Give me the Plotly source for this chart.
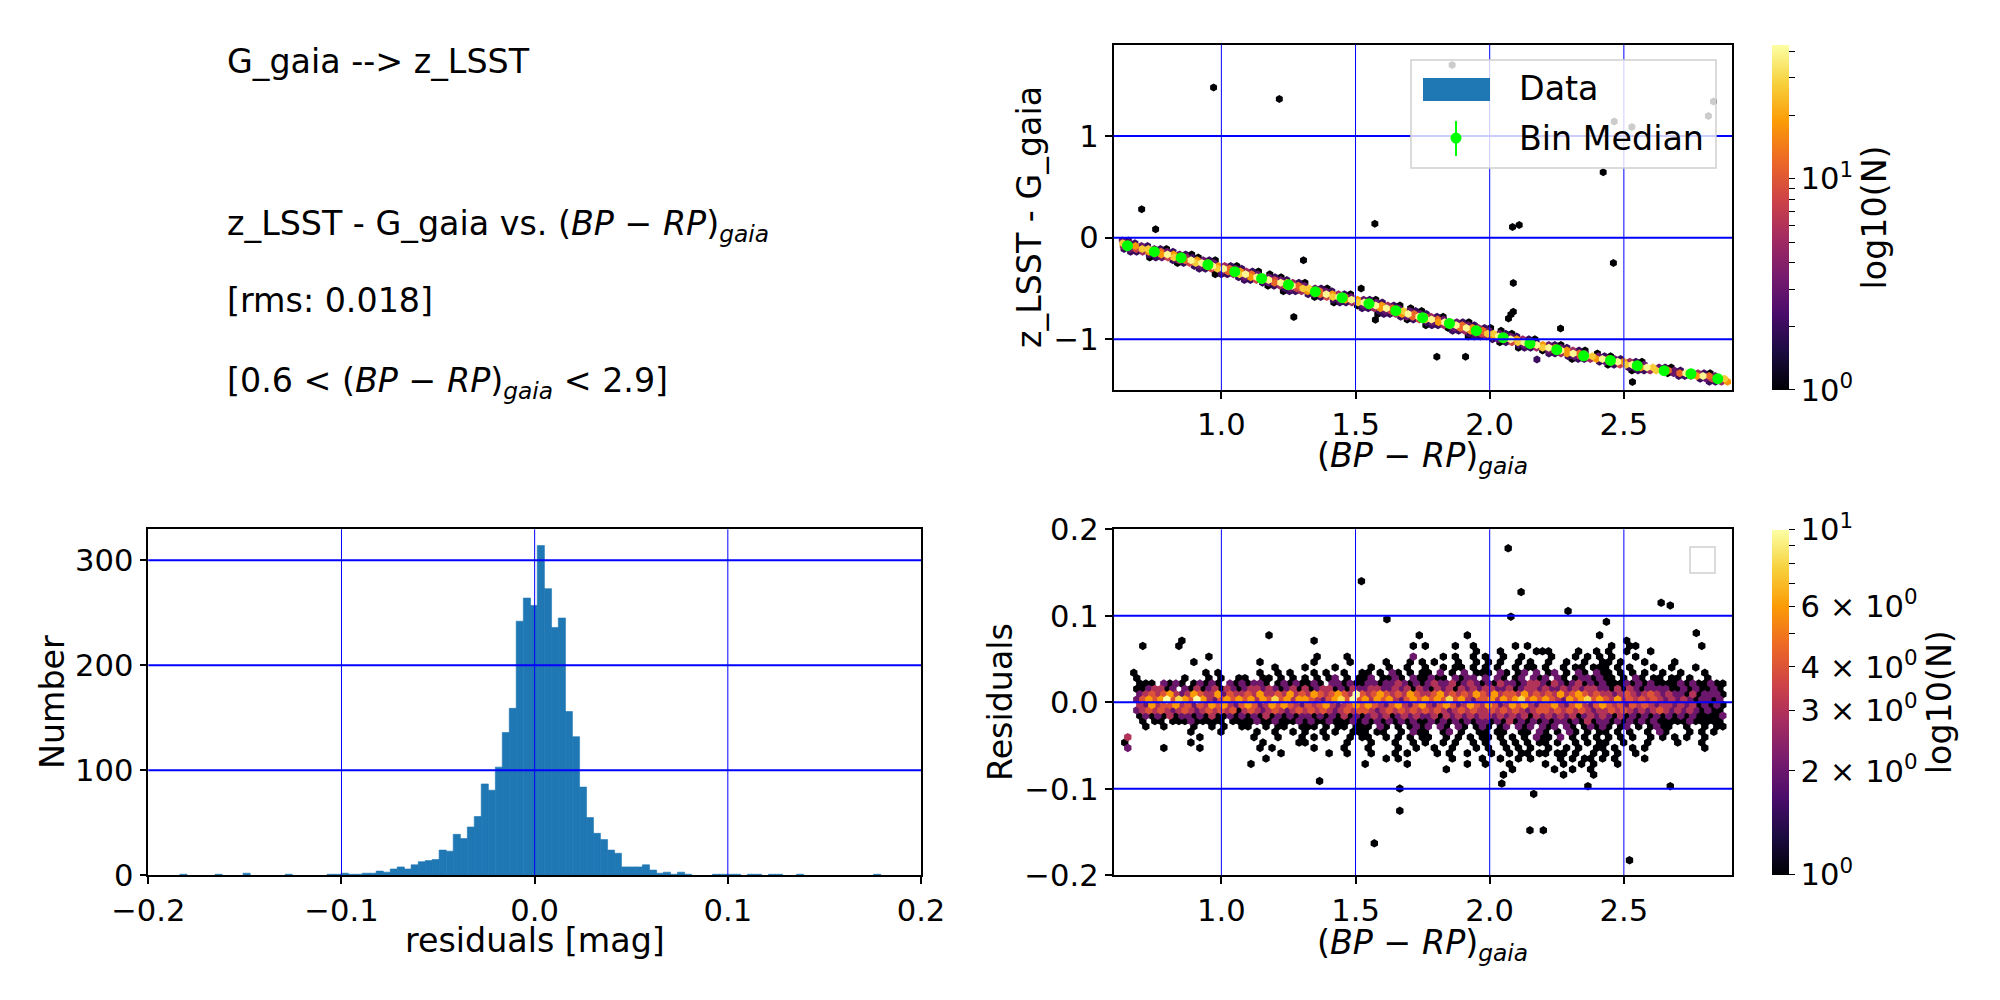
import numpy as np
import plotly.graph_objects as go

FONT = "DejaVu Sans"
TICK_SIZE = 30.6
TEXT_SIZE = 33.3

# ---------------- histogram of the residuals (bin centres, counts)
hist_centers = [-0.1818, -0.1636, -0.1491, -0.1273, -0.1056, -0.1020, -0.0983, -0.0947,
                -0.0911, -0.0874, -0.0838, -0.0802, -0.0766, -0.0729, -0.0693, -0.0657,
                -0.0621, -0.0584, -0.0548, -0.0512, -0.0476, -0.0439, -0.0403, -0.0367,
                -0.0330, -0.0294, -0.0258, -0.0222, -0.0185, -0.0149, -0.0113, -0.0077,
                -0.0040, -0.0004, 0.0032, 0.0069, 0.0105, 0.0141, 0.0177, 0.0214,
                0.0250, 0.0286, 0.0322, 0.0359, 0.0395, 0.0431, 0.0468, 0.0504,
                0.0540, 0.0576, 0.0613, 0.0649, 0.0685, 0.0721, 0.0758, 0.0794,
                0.0939, 0.0975, 0.1012, 0.1048, 0.1120, 0.1157, 0.1229, 0.1265,
                0.1374, 0.1773]
hist_counts = [1, 1, 2, 1, 1, 1, 2, 1,
               1, 2, 2, 4, 3, 6, 8, 6,
               10, 13, 14, 15, 24, 23, 39, 35,
               46, 56, 87, 81, 103, 136, 159, 242,
               264, 257, 314, 273, 236, 245, 156, 132,
               84, 55, 40, 34, 24, 21, 8, 8,
               8, 10, 5, 2, 3, 1, 3, 1,
               1, 1, 1, 1, 1, 1, 1, 1,
               1, 1]
hist_width = 0.00370

# ---------------- bin medians of the colour relation
median_x = [0.65, 0.75, 0.85, 0.95, 1.05, 1.15, 1.25, 1.35, 1.45, 1.55, 1.65, 1.75,
            1.85, 1.95, 2.05, 2.15, 2.25, 2.35, 2.45, 2.55, 2.65, 2.75, 2.85]
median_y = [-0.079, -0.138, -0.197, -0.266, -0.335, -0.401, -0.463, -0.532, -0.591,
            -0.650, -0.719, -0.788, -0.844, -0.916, -0.985, -1.041, -1.103, -1.163,
            -1.209, -1.261, -1.310, -1.340, -1.389]
median_err = [0.008, 0.006, 0.005, 0.005, 0.004, 0.004, 0.004, 0.004, 0.004, 0.004,
              0.004, 0.004, 0.004, 0.004, 0.004, 0.004, 0.004, 0.004, 0.005, 0.005,
              0.006, 0.007, 0.009]

# ---------------- top hexbin: one row of hexagons per y, centred on the band
top_dx = 0.0226
top_row_y = [-0.028, -0.056, -0.083, -0.111, -0.139, -0.167, -0.195, -0.222, -0.250,
             -0.278, -0.306, -0.334, -0.361, -0.389, -0.417, -0.445, -0.473, -0.500,
             -0.528, -0.556, -0.584, -0.612, -0.639, -0.667, -0.695, -0.723, -0.751,
             -0.778, -0.806, -0.834, -0.862, -0.890, -0.917, -0.945, -0.973, -1.001,
             -1.029, -1.056, -1.084, -1.112, -1.140, -1.168, -1.195, -1.223, -1.251,
             -1.279, -1.307, -1.334, -1.362, -1.390, -1.418]
top_row_xc = [0.563, 0.610, 0.657, 0.705, 0.752, 0.799, 0.846, 0.887, 0.927, 0.967,
              1.008, 1.048, 1.090, 1.132, 1.176, 1.221, 1.264, 1.304, 1.344, 1.391,
              1.438, 1.485, 1.532, 1.575, 1.615, 1.656, 1.696, 1.736, 1.783, 1.832,
              1.875, 1.913, 1.952, 1.992, 2.033, 2.078, 2.128, 2.175, 2.220, 2.265,
              2.311, 2.360, 2.420, 2.477, 2.531, 2.586, 2.643, 2.731, 2.795, 2.852,
              2.909]
# 11 cells per row, the band centre is the 6th character
top_row_cells = ["........32.", ".....7832..", "1..248732..", "..23588321.", ".22479632..",
                 "..23797321.", "123588421..", "..24697321.", ".1258963...", "..23797421.",
                 ".22589632..", "..13697421.", "12248963.1.", "..23798321.", ".22589532..",
                 "..23697421.", ".1247963...", "..23588321.", "122479632..", "..23697421.",
                 ".1258963...", "..23797321.", "122489532..", "..13697421.", ".2247963.1.",
                 "..23588321.", "122479632..", "..23697421.", ".1258963...", "..23798321.",
                 "122489632..", "..13697421.", ".2247963.1.", "..23588321.", "122479632..",
                 "..23697421.", ".1258962...", "..23797321.", "122489632..", "..13697421.",
                 ".2247963.1.", "..23588321.", "122479632..", "..23697421.", ".1258963...",
                 "..23798321.", "122489632..", "..13697421.", ".2247963...", "..235883...",
                 ".2247......"]
top_levels = {"1": 1, "2": 2, "3": 3, "4": 5, "5": 8, "6": 12, "7": 18, "8": 27, "9": 40}
top_out_x = [0.971, 1.216, 0.703, 0.755, 1.572, 2.085, 2.110, 2.423, 2.461, 1.306, 1.270,
             1.521, 2.088, 2.079, 2.088, 2.070, 2.264, 1.803, 1.910, 2.532, 1.860, 2.464,
             2.530, 2.815, 2.834, 2.176, 1.574]
top_out_y = [1.478, 1.366, 0.279, 0.082, 0.136, 0.105, 0.125, 0.643, -0.250, -0.222, -0.780,
             -0.501, -0.447, -0.756, -0.729, -0.795, -0.894, -1.172, -1.172, -1.421, 1.700,
             1.143, 1.090, 1.198, 1.340, -1.199, -0.808]
top_out_n = [1, 1, 1, 1, 1, 1, 1, 1, 1, 1, 1, 1, 1, 1, 1, 1, 1, 1, 1, 1, 1, 1, 1, 1, 1, 2, 1]
top_nmax = 43

# ---------------- bottom hexbin (residuals): rows of hexagons, 100 columns each
res_x0 = 0.640
res_dx = 0.0224
res_row_y = [0.0775, 0.0713, 0.0651, 0.0589, 0.0527, 0.0465, 0.0403, 0.0341, 0.0279,
             0.0217, 0.0155, 0.0093, 0.0031, -0.0031, -0.0093, -0.0155, -0.0217, -0.0279,
             -0.0341, -0.0403, -0.0465, -0.0527, -0.0589, -0.0651, -0.0713, -0.0775,
             -0.0837]
res_rows = [
    ".......... .......... ....1..... .......... .........1 .......1.. .......... .........1 .......... ..........",
    ".........1 .......... .......... .1........ .......... .......... .......... .......... ...1...... ..........",
    "...1.....1 .......... .......... .......... ........1. 1....1..1. .....1.1.. .......... .1..11.... ......1...",
    ".......... .......... .......... .......... .......... ........1. ..1.....11 1....1..1. 1..1...1.. ..........",
    ".......... ....1..... .......... ..1....1.. ........2. ...1.1..1. 1..1..1... .1...1.1.1 .1...1.... ..........",
    ".......... .1........ ..1....... .1.....1.. ...1...1.1 .1...1..1. 1.1..1.1.. 1..1..1..1 1.1...1... .1........",
    ".......... .......... .....1.... 1....1.... .1..1..1.. 1..1.11.1. 1.1..1.11. 1..1.11.11 1.1.1...1. .1...1....",
    ".1........ ...1.1.... ..1..1.1.. .1.1..1..1 1.1.21.1.1 1.2.1.2.11 1.21.12.2. 12.1.21.21 1.1.1.1..1 ..1...1...",
    "..1....... 1...1.1..1 1..11.1.1. 1.1.12.1.1 12.1121.21 1211.2122. 2.21.12.21 2.21.12212 11.1.21.11 .11.1..1..",
    "..111.2121 .12121.212 1221.12121 121.221211 2212232121 2322312321 2132212332 1321231212 1112121211 1121211211",
    "..1123312. 2131231321 2332321231 3123312132 2332232313 2132313232 3322312332 3223232332 2131321222 2112121121",
    "..23434632 3643362433 4363343634 3643464394 3464343643 3463434364 3634436343 4363464343 3234323432 3221312221",
    "..24646948 6496324646 4636484636 6432468494 6364632464 6464846324 4636468464 6432646846 4363434343 2323212212",
    "..32634463 4243646324 6423646432 4346323464 6432463246 3246423643 6423646324 4632463246 4342434323 3232312121",
    "..23434323 4323434341 3432343234 3434323434 4323434343 4343234343 3434343234 4343434323 3434323234 3232321211",
    "..12121312 2121311212 1213121212 2121213121 2323123232 2313232323 3232323132 3232312323 2131212121 2121211112",
    "...1.11.11 1211111.11 1121121112 1211211121 2121212121 1212121212 2121312121 2122121312 2121212121 1111211111",
    "...1..1... .1..1.1..1 1..1.11..1 11.1.11.11 1.21.1.121 2.21.21.12 1.12.212.2 12.21.1212 1.12.1.121 1..1..1.11",
    ".......... .1....1... ..1..1..1. 1..1.1..11 1.11..1.21 1..12.1..1 1.11..11.2 1.1.21.1.1 1.1.1..1.2 1...1.1.1.",
    "3......... ..1....... .1...1...1 .1.1...1.1 1..1.1.1.1 1..1.1.1.1 1.1.1.1.21 1.2.1.1.1. 1.1.1..1.1 .1.1..1...",
    "1......... .1........ ...1.....1 1......1.. .1...1..1. 1..1.1..1. 1..1.1.1.1 1.1..1.1.1 1..1...1.. ..1...1...",
    "2.....1... ..1....... ..1.1..... .1....1... 1....1..1. .1..1...1. 1..1.1.1.. 1..1.1..11 .1..1.1... ......1...",
    ".......... .......... ......1... ....1..1.. .1...1.1.. ..1.1..1.. .1..1.11.1 1.11.1..1. 1.1..1.... ..........",
    ".......... .......... ...1...... .......... ...1.1.... ....1....1 ..1..1.1.. ..1.1.11.1 .1....1... ..........",
    ".......... .......... .1........ .......... 1......1.. .......1.. 1...1..... 1..1..1.1. ..1....... ..........",
    ".......... .......... .......... .......... .......... ...1...... ....1..... .1..1..1.. .......... ..........",
    ".......... .......... .......... .......... .......... .......... ...1...... ...1....1. .......... ..........",
]
res_levels = {"1": 1, "2": 2, "3": 3, "4": 4, "6": 6, "8": 8, "9": 10}
res_out_x = [1.522, 1.617, 2.069, 2.117, 2.079, 2.292, 2.435, 2.639, 2.673, 2.770, 1.366,
             1.570, 1.665, 1.665, 2.045, 2.164, 2.150, 2.200, 2.366, 2.521, 2.673]
res_out_y = [0.140, 0.096, 0.178, 0.1275, 0.099, 0.1055, 0.093, 0.115, 0.112, 0.080, -0.091,
             -0.163, -0.0997, -0.1255, -0.094, -0.106, -0.148, -0.148, -0.097, -0.1826, -0.097]
res_nmax = 10

# ---------------- ticks
hist_xticks = [-0.2, -0.1, 0.0, 0.1, 0.2]
hist_yticks = [0, 100, 200, 300]
col_xticks = [1.0, 1.5, 2.0, 2.5]
top_yticks = [-1, 0, 1]
res_yticks = [-0.2, -0.1, 0.0, 0.1, 0.2]

# page pixels -> paper coordinates (the page body has an 8 px margin)
OFF = 8


def px(x):
    return (x - OFF) / 2000


def py(y):
    return 1 - (y - OFF) / 1000


# ---------------- build hex cells
tx, ty, tn = [], [], []
for y, xc, cells in zip(top_row_y, top_row_xc, top_row_cells):
    for k, ch in enumerate(cells):
        if ch not in top_levels:
            continue
        x = xc + (k - 5) * top_dx
        if x < 0.615 or x > 2.895:
            continue
        tx.append(x); ty.append(y); tn.append(top_levels[ch])
tx += top_out_x; ty += top_out_y; tn += top_out_n
order = np.argsort(tn, kind="stable")
tx = np.array(tx)[order]; ty = np.array(ty)[order]; tn = np.array(tn)[order]

rx, ry, rn = [], [], []
for i, (y, row) in enumerate(zip(res_row_y, res_rows)):
    row = row.replace(" ", "")
    off = res_dx / 2 if i % 2 else 0.0
    for k, ch in enumerate(row):
        if ch not in res_levels:
            continue
        rx.append(res_x0 + k * res_dx + off); ry.append(y); rn.append(res_levels[ch])
rx += res_out_x; ry += res_out_y; rn += [1] * len(res_out_x)
order = np.argsort(rn, kind="stable")
rx = np.array(rx)[order]; ry = np.array(ry)[order]; rn = np.array(rn)[order]

fig = go.Figure()

fig.add_trace(go.Bar(x=hist_centers, y=hist_counts, width=hist_width,
                     marker=dict(color="#1f77b4", line=dict(color="#1f77b4", width=0.6)),
                     xaxis="x", yaxis="y", showlegend=False))


def cbar(yc, ticks, labels):
    return dict(x=px(1772), xanchor="left", y=py(yc), yanchor="middle",
                len=0.3453, thickness=17, outlinewidth=0, xpad=0, ypad=0,
                tickvals=np.log10(ticks), ticktext=labels,
                ticks="outside", ticklen=6, tickcolor="black",
                tickfont=dict(size=TICK_SIZE, family=FONT, color="black"),
                title=dict(text="log10(N)", side="right",
                           font=dict(size=TEXT_SIZE, family=FONT, color="black")))


top_ticks = [1, 2, 3, 4, 5, 6, 7, 8, 9, 10, 20, 30, 40]
top_text = ["10<sup>0</sup>"] + [" "] * 8 + ["10<sup>1</sup>", " ", " ", " "]
fig.add_trace(go.Scatter(
    x=tx, y=ty, mode="markers", xaxis="x2", yaxis="y2", showlegend=False,
    marker=dict(symbol="hexagon", size=8, color=np.log10(tn), colorscale="Inferno",
                cmin=0, cmax=np.log10(top_nmax), line=dict(width=0),
                colorbar=cbar(217.4, top_ticks, top_text))))

fig.add_trace(go.Scatter(
    x=median_x, y=median_y, mode="markers", xaxis="x2", yaxis="y2", showlegend=False,
    marker=dict(color="#00ff00", size=11),
    error_y=dict(type="data", array=median_err, color="#00ff00", thickness=2, width=0)))

res_ticks = [1, 2, 3, 4, 5, 6, 7, 8, 9, 10]
res_text = ["10<sup>0</sup>", "2 × 10<sup>0</sup>", "3 × 10<sup>0</sup>", "4 × 10<sup>0</sup>", " ",
            "6 × 10<sup>0</sup>", " ", " ", " ", "10<sup>1</sup>"]
fig.add_trace(go.Scatter(
    x=rx, y=ry, mode="markers", xaxis="x3", yaxis="y3", showlegend=False,
    marker=dict(symbol="hexagon", size=8.5, color=np.log10(rn), colorscale="Inferno",
                cmin=0, cmax=np.log10(res_nmax), line=dict(width=0),
                colorbar=cbar(702.2, res_ticks, res_text))))


def axis(domain, rng, ticks, anchor, fmt=None):
    d = dict(domain=domain, range=rng, tickvals=ticks, anchor=anchor, showgrid=False,
             zeroline=False, showline=True, mirror=True, linecolor="black", linewidth=1.5,
             ticks="outside", ticklen=7, tickwidth=1.5, tickcolor="black", automargin=False,
             tickfont=dict(size=TICK_SIZE, family=FONT, color="black"))
    if fmt:
        d["tickformat"] = fmt
    return d


shapes = []


def grid(xname, yname, xticks, yticks, xr, yr):
    for v in xticks:
        if xr[0] < v < xr[1]:
            shapes.append(dict(type="line", xref=xname, yref=yname + " domain", x0=v, x1=v,
                               y0=0, y1=1, line=dict(color="blue", width=1), layer="above"))
    for v in yticks:
        if yr[0] < v < yr[1]:
            shapes.append(dict(type="line", xref=xname + " domain", yref=yname, x0=0, x1=1,
                               y0=v, y1=v, line=dict(color="blue", width=2), layer="above"))


hist_xr, hist_yr = [-0.2, 0.2], [0, 329.5]
col_xr, top_yr, res_yr = [0.598, 2.903], [-1.50, 1.90], [-0.2, 0.2]
grid("x", "y", hist_xticks, hist_yticks, hist_xr, hist_yr)
grid("x2", "y2", col_xticks, top_yticks, col_xr, top_yr)
grid("x3", "y3", col_xticks, res_yticks, col_xr, res_yr)


def rect(x0, x1, y0, y1, **kw):
    shapes.append(dict(type="rect", xref="paper", yref="paper", x0=px(x0), x1=px(x1),
                       y0=py(y1), y1=py(y0), layer="above", **kw))


# legend of the top right panel, drawn by hand
rect(1411, 1716, 60, 168, fillcolor="rgba(255,255,255,0.8)", line=dict(color="#d0d0d0", width=1.5))
rect(1423, 1490, 78, 101, fillcolor="#1f77b4", line=dict(width=0))
shapes.append(dict(type="line", xref="paper", yref="paper", x0=px(1456), x1=px(1456),
                   y0=py(156), y1=py(121), line=dict(color="#00ff00", width=2), layer="above"))
shapes.append(dict(type="circle", xref="paper", yref="paper", x0=px(1450.5), x1=px(1461.5),
                   y0=py(143.5), y1=py(132.5), fillcolor="#00ff00", line=dict(width=0),
                   layer="above"))
# empty legend of the residual panel
rect(1690, 1715, 547, 573, fillcolor="rgba(255,255,255,0.8)", line=dict(color="#d0d0d0", width=1.5))

bp_rp = "(<i>BP</i> − <i>RP</i>)<sub><i>gaia</i></sub>"
ann = []


def text(s, x, y, xanchor="center", angle=0):
    ann.append(dict(text=s, x=px(x), y=py(y), xref="paper", yref="paper", xanchor=xanchor,
                    yanchor="middle", showarrow=False, textangle=angle,
                    font=dict(size=TEXT_SIZE, family=FONT, color="black")))


text("G_gaia --> z_LSST", 224.5, 61, "left")
text("z_LSST - G_gaia vs. " + bp_rp, 224.5, 226, "left")
text("[rms: 0.018]", 224.5, 301, "left")
text("[0.6 < " + bp_rp + " < 2.9]", 224.5, 382, "left")
text("Number", 52, 702, angle=-90)
text("residuals [mag]", 534.6, 940)
text("z_LSST - G_gaia", 1030, 217, angle=-90)
text(bp_rp, 1422.7, 457)
text("Residuals", 1000, 702, angle=-90)
text(bp_rp, 1422.7, 944)
text("Data", 1517, 89, "left")
text("Bin Median", 1517, 138, "left")

fig.update_layout(
    template="none",
    width=2000, height=1000, margin=dict(l=0, r=0, t=0, b=0, pad=0, autoexpand=False),
    paper_bgcolor="white", plot_bgcolor="white", showlegend=False,
    font=dict(family=FONT, size=TEXT_SIZE, color="black"),
    xaxis=axis([px(148.3), px(921)], hist_xr, hist_xticks, "y", ".1f"),
    yaxis=axis([py(875.3), py(529.3)], hist_yr, hist_yticks, "x"),
    xaxis2=axis([px(1113.5), px(1732)], col_xr, col_xticks, "y2", ".1f"),
    yaxis2=axis([py(390), py(44.7)], top_yr, top_yticks, "x2"),
    xaxis3=axis([px(1113.5), px(1732)], col_xr, col_xticks, "y3", ".1f"),
    yaxis3=axis([py(875.3), py(529.3)], res_yr, res_yticks, "x3", ".1f"),
    shapes=shapes, annotations=ann,
)

fig.write_html("out.html")
